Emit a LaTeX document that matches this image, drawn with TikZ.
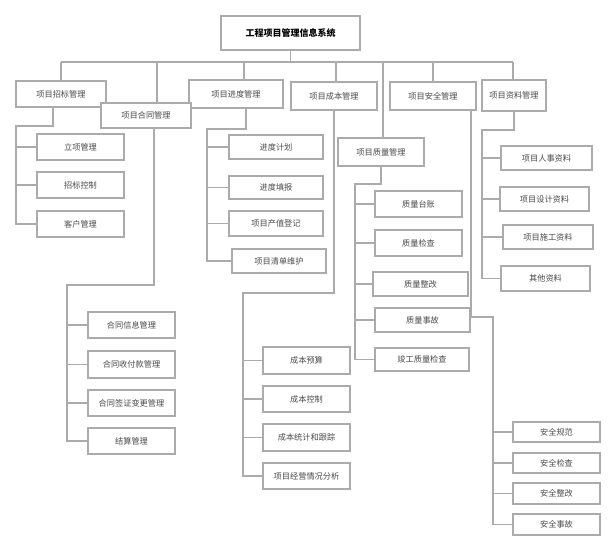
\documentclass[tikz,border=0pt]{standalone}
\usepackage{fontspec}
\setmainfont{Noto Sans CJK SC}
\definecolor{ln}{HTML}{ABABAB}
\definecolor{tx}{HTML}{4A4A4A}
\tikzset{
  box/.style={draw=ln, line width=1.1pt, fill=white, inner sep=0pt, text=tx, font=\fontsize{8.2}{9}\selectfont},
  rootbox/.style={box, text=black, font=\fontsize{9}{10}\selectfont\bfseries},
  conn/.style={draw=ln, line width=1.1pt}
}
\newcommand\bx[7][box]{\node[#1, minimum width={(#5-#3)*1pt}, minimum height={(#6-#4)*1pt}] (#2) at ({(#3+#5)/2},{(#4+#6)/2}) {#7};}
\begin{document}
\begin{tikzpicture}[x=1pt,y=-1pt]
\useasboundingbox (0,0) rectangle (616,550);
\coordinate (busL) at (61,62);
\coordinate (busR) at (513,62);
\coordinate (s1) at (61,62);
\coordinate (s2) at (157,62);
\coordinate (s3) at (244,62);
\coordinate (s4) at (336,62);
\coordinate (s5) at (383,62);
\coordinate (s6) at (433,62);
\coordinate (s7) at (513,62);
% root and level 1
\bx[rootbox]{root}{221}{16}{360}{50}{工程项目管理信息系统}
\bx{zb}{16}{81}{106}{107}{项目招标管理}
\bx{jd}{189}{80}{283}{108}{项目进度管理}
\bx{cb}{291}{82}{377}{110}{项目成本管理}
\bx{aq}{390}{82}{476}{110}{项目安全管理}
\bx{zl}{482}{80}{546}{111}{项目资料管理}
\bx{zlg}{338}{138}{424}{166}{项目质量管理}
% children boxes
\bx{zb1}{37}{134}{124}{160}{立项管理}
\bx{zb2}{37}{172}{124}{198}{招标控制}
\bx{zb3}{37}{211}{124}{237}{客户管理}
\bx{jd1}{229}{135}{323}{159}{进度计划}
\bx{jd2}{229}{176}{323}{199}{进度填报}
\bx{jd3}{229}{211}{323}{236}{项目产值登记}
\bx{jd4}{232}{249}{326}{273}{项目清单维护}
\bx{ht1}{88}{312}{175}{338}{合同信息管理}
\bx{ht2}{88}{351}{175}{378}{合同收付款管理}
\bx{ht3}{88}{390}{175}{416}{合同签证变更管理}
\bx{ht4}{88}{428}{175}{454}{结算管理}
\bx{cb1}{263}{347}{350}{374}{成本预算}
\bx{cb2}{263}{386}{350}{412}{成本控制}
\bx{cb3}{263}{424}{350}{451}{成本统计和跟踪}
\bx{cb4}{263}{463}{350}{489}{项目经营情况分析}
\bx{zq1}{375}{191}{462}{217}{质量台账}
\bx{zq2}{375}{230}{462}{256}{质量检查}
\bx{zq3}{373}{272}{468}{296}{质量整改}
\bx{zq4}{375}{308}{470}{332}{质量事故}
\bx{zq5}{375}{348}{469}{371}{竣工质量检查}
\bx{aq1}{513}{422}{600}{442}{安全规范}
\bx{aq2}{513}{453}{600}{473}{安全检查}
\bx{aq3}{513}{483}{600}{504}{安全整改}
\bx{aq4}{513}{514}{600}{535}{安全事故}
\bx{zl1}{501}{146}{592}{170}{项目人事资料}
\bx{zl2}{500}{187}{589}{211}{项目设计资料}
\bx{zl3}{503}{225}{593}{249}{项目施工资料}
\bx{zl4}{501}{266}{590}{291}{其他资料}
% bus
\draw[conn] (busL) -- (busR);
\draw[conn] (root.south) -- (root.south |- busL);
\draw[conn] (s1) -- (s1 |- zb.north);
\draw[conn] (s3) -- (s3 |- jd.north);
\draw[conn] (s4) -- (s4 |- cb.north);
\draw[conn] (s5) -- (s5 |- zlg.north);
\draw[conn] (s6) -- (s6 |- aq.north);
\draw[conn] (s7) -- (s7 |- zl.north);
% 招标 children
\coordinate (zbA) at (53,126); \coordinate (zbB) at (16,126);
\draw[conn] (zbA |- zb.south) -- (zbA) -- (zbB) -- (zbB |- zb3.west) -- (zb3.west);
\draw[conn] (zbB |- zb1.west) -- (zb1.west);
\draw[conn] (zbB |- zb2.west) -- (zb2.west);
% 进度 children
\coordinate (jdA) at (246,129); \coordinate (jdB) at (207,129);
\draw[conn] (jdA |- jd.south) -- (jdA) -- (jdB) -- (jdB |- jd4.west) -- (jd4.west);
\draw[conn] (jdB |- jd1.west) -- (jd1.west);
\draw[conn] (jdB |- jd2.west) -- (jd2.west);
\draw[conn] (jdB |- jd3.west) -- (jd3.west);
% 成本 children
\coordinate (cbA) at (334,293); \coordinate (cbB) at (243,293);
\draw[conn] (cbA |- cb.south) -- (cbA) -- (cbB) -- (cbB |- cb4.west) -- (cb4.west);
\draw[conn] (cbB |- cb1.west) -- (cb1.west);
\draw[conn] (cbB |- cb2.west) -- (cb2.west);
\draw[conn] (cbB |- cb3.west) -- (cb3.west);
% 质量 children
\coordinate (zqA) at (381,184); \coordinate (zqB) at (355,184);
\draw[conn] (zqA |- zlg.south) -- (zqA) -- (zqB) -- (zqB |- zq5.west) -- (zq5.west);
\draw[conn] (zqB |- zq1.west) -- (zq1.west);
\draw[conn] (zqB |- zq2.west) -- (zq2.west);
\draw[conn] (zqB |- zq3.west) -- (zq3.west);
\draw[conn] (zqB |- zq4.west) -- (zq4.west);
% 安全 children
\coordinate (aqA) at (471,317); \coordinate (aqB) at (493,317);
\draw[conn] (aqA |- aq.south) -- (aqA) -- (aqB) -- (aqB |- aq4.west) -- (aq4.west);
\draw[conn] (aqB |- aq1.west) -- (aq1.west);
\draw[conn] (aqB |- aq2.west) -- (aq2.west);
\draw[conn] (aqB |- aq3.west) -- (aq3.west);
% 资料 children
\coordinate (zlA) at (514,130); \coordinate (zlB) at (482,130);
\draw[conn] (zlA |- zl.south) -- (zlA) -- (zlB) -- (zlB |- zl4.west) -- (zl4.west);
\draw[conn] (zlB |- zl1.west) -- (zl1.west);
\draw[conn] (zlB |- zl2.west) -- (zl2.west);
\draw[conn] (zlB |- zl3.west) -- (zl3.west);
% 合同 (drawn after so it overlaps 招标)
\bx{ht}{101}{103}{191}{128}{项目合同管理}
\draw[conn] (s2) -- (s2 |- ht.north);
\coordinate (htA) at (154,285); \coordinate (htB) at (67,285);
\draw[conn] (htA |- ht.south) -- (htA) -- (htB) -- (htB |- ht4.west) -- (ht4.west);
\draw[conn] (htB |- ht1.west) -- (ht1.west);
\draw[conn] (htB |- ht2.west) -- (ht2.west);
\draw[conn] (htB |- ht3.west) -- (ht3.west);
\end{tikzpicture}
\end{document}
